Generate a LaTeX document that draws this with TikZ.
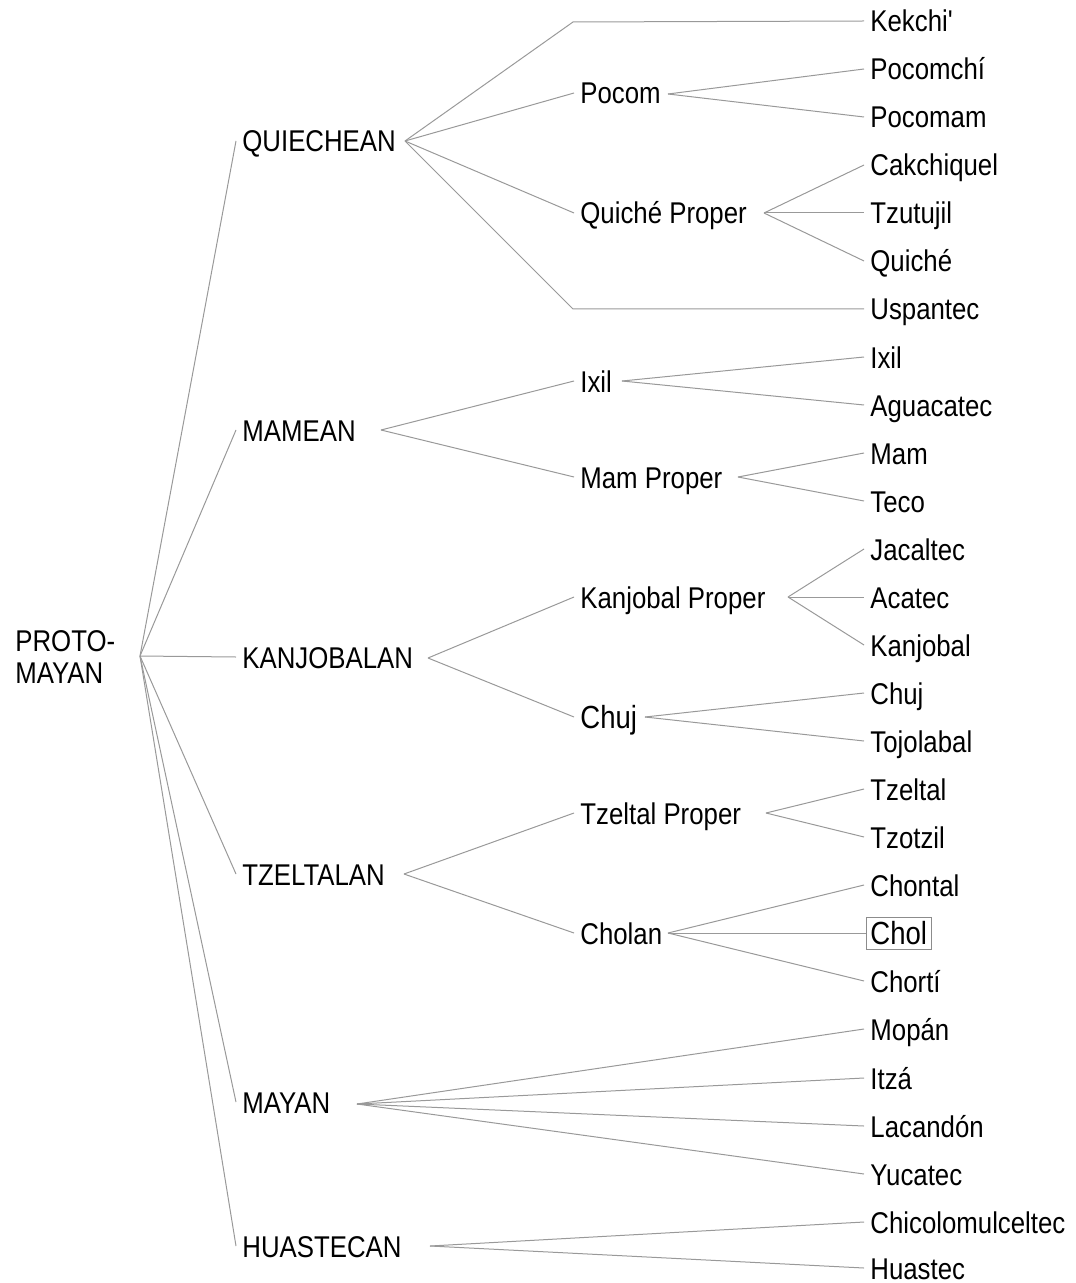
\documentclass[tikz,border=0pt]{standalone}
\usepackage{fontspec}
\newfontfamily\treefont[FakeStretch=0.86]{Liberation Sans}
\tikzset{
  lang/.style={anchor=west, inner xsep=3pt, inner ysep=1pt, text height=12pt, text depth=1pt,
    font=\treefont\fontsize{15}{16}\selectfont},
  branch/.style={draw=black!40, line width=0.5pt},
}
\begin{document}
\begin{tikzpicture}[x=0.5pt,y=-0.5pt]
\useasboundingbox (0,0) rectangle (1075,1283);
% root and families
\node[lang, align=left, text height=, text depth=] (root) at (9,657) {PROTO-\\MAYAN};
\coordinate (root-j) at (140,656);
\foreach \n/\y/\t in {quiechean/141/QUIECHEAN, mamean/430/MAMEAN, kanjobalan/657/KANJOBALAN,
    tzeltalan/874/TZELTALAN, mayan/1102/MAYAN, huastecan/1246/HUASTECAN}{
  \node[lang] (\n) at (236,\y) {\t};
  \draw[branch] (root-j) -- (\n.west);
}
% junction points
\coordinate (quiechean-j) at (405,141);
\coordinate (mamean-j) at (381,430);
\coordinate (kanjobalan-j) at (428,658);
\coordinate (tzeltalan-j) at (404,874);
\coordinate (mayan-j) at (357,1104);
\coordinate (huastecan-j) at (430,1246);
\coordinate (kekchi-b) at (573,22);
\coordinate (uspantec-b) at (573,309);
% subgroups
\node[lang] (pocom) at (574,93) {Pocom};
\node[lang] (quicheproper) at (574,213) {Quiché Proper};
\node[lang] (ixilg) at (574,381) {Ixil};
\node[lang] (mamproper) at (574,477) {Mam Proper};
\node[lang] (kanjproper) at (574,597) {Kanjobal Proper};
\node[lang, font=\treefont\fontsize{16}{16}\selectfont] (chujg) at (574,717) {Chuj};
\node[lang] (tzeltproper) at (574,813) {Tzeltal Proper};
\node[lang] (cholan) at (574,933) {Cholan};
\coordinate (pocom-j) at (668,94);
\coordinate (quicheproper-j) at (764,213);
\coordinate (ixilg-j) at (622,381);
\coordinate (mamproper-j) at (738,477);
\coordinate (kanjproper-j) at (788,597);
\coordinate (chujg-j) at (645,717);
\coordinate (tzeltproper-j) at (766,813);
\coordinate (cholan-j) at (668,933);
% languages
\foreach \n/\y/\t in {kekchi/21/Kekchi', pocomchi/69/Pocomchí, pocomam/117/Pocomam,
    cakchiquel/165/Cakchiquel, tzutujil/213/Tzutujil, quiche/261/Quiché, uspantec/309/Uspantec,
    ixil/357/Ixil, aguacatec/405/Aguacatec, mam/453/Mam, teco/501/Teco,
    jacaltec/549/Jacaltec, acatec/597/Acatec, kanjobal/645/Kanjobal, chuj/693/Chuj,
    tojolabal/741/Tojolabal, tzeltal/789/Tzeltal, tzotzil/837/Tzotzil, chontal/885/Chontal,
    chorti/981/Chortí, mopan/1029/Mopán, itza/1078/Itzá, lacandon/1126/Lacandón,
    yucatec/1174/Yucatec, chicolomulceltec/1222/Chicolomulceltec, huastec/1268/Huastec}
  \node[lang] (\n) at (864,\y) {\t};
\node[lang, draw=black!45, inner xsep=2pt, inner ysep=1.5pt,
  font=\treefont\fontsize{16}{16}\selectfont] (chol) at (866,933) {Chol};
% branches
\draw[branch] (quiechean-j) -- (kekchi-b) -- (kekchi.west);
\draw[branch] (quiechean-j) -- (uspantec-b) -- (uspantec.west);
\foreach \a/\b in {quiechean/pocom, quiechean/quicheproper, mamean/ixilg, mamean/mamproper,
    kanjobalan/kanjproper, kanjobalan/chujg, tzeltalan/tzeltproper, tzeltalan/cholan,
    pocom/pocomchi, pocom/pocomam, quicheproper/cakchiquel, quicheproper/tzutujil,
    quicheproper/quiche, ixilg/ixil, ixilg/aguacatec, mamproper/mam, mamproper/teco,
    kanjproper/jacaltec, kanjproper/acatec, kanjproper/kanjobal, chujg/chuj, chujg/tojolabal,
    tzeltproper/tzeltal, tzeltproper/tzotzil, cholan/chontal, cholan/chol, cholan/chorti,
    mayan/mopan, mayan/itza, mayan/lacandon, mayan/yucatec,
    huastecan/chicolomulceltec, huastecan/huastec}
  \draw[branch] (\a-j) -- (\b.west);
\end{tikzpicture}
\end{document}
